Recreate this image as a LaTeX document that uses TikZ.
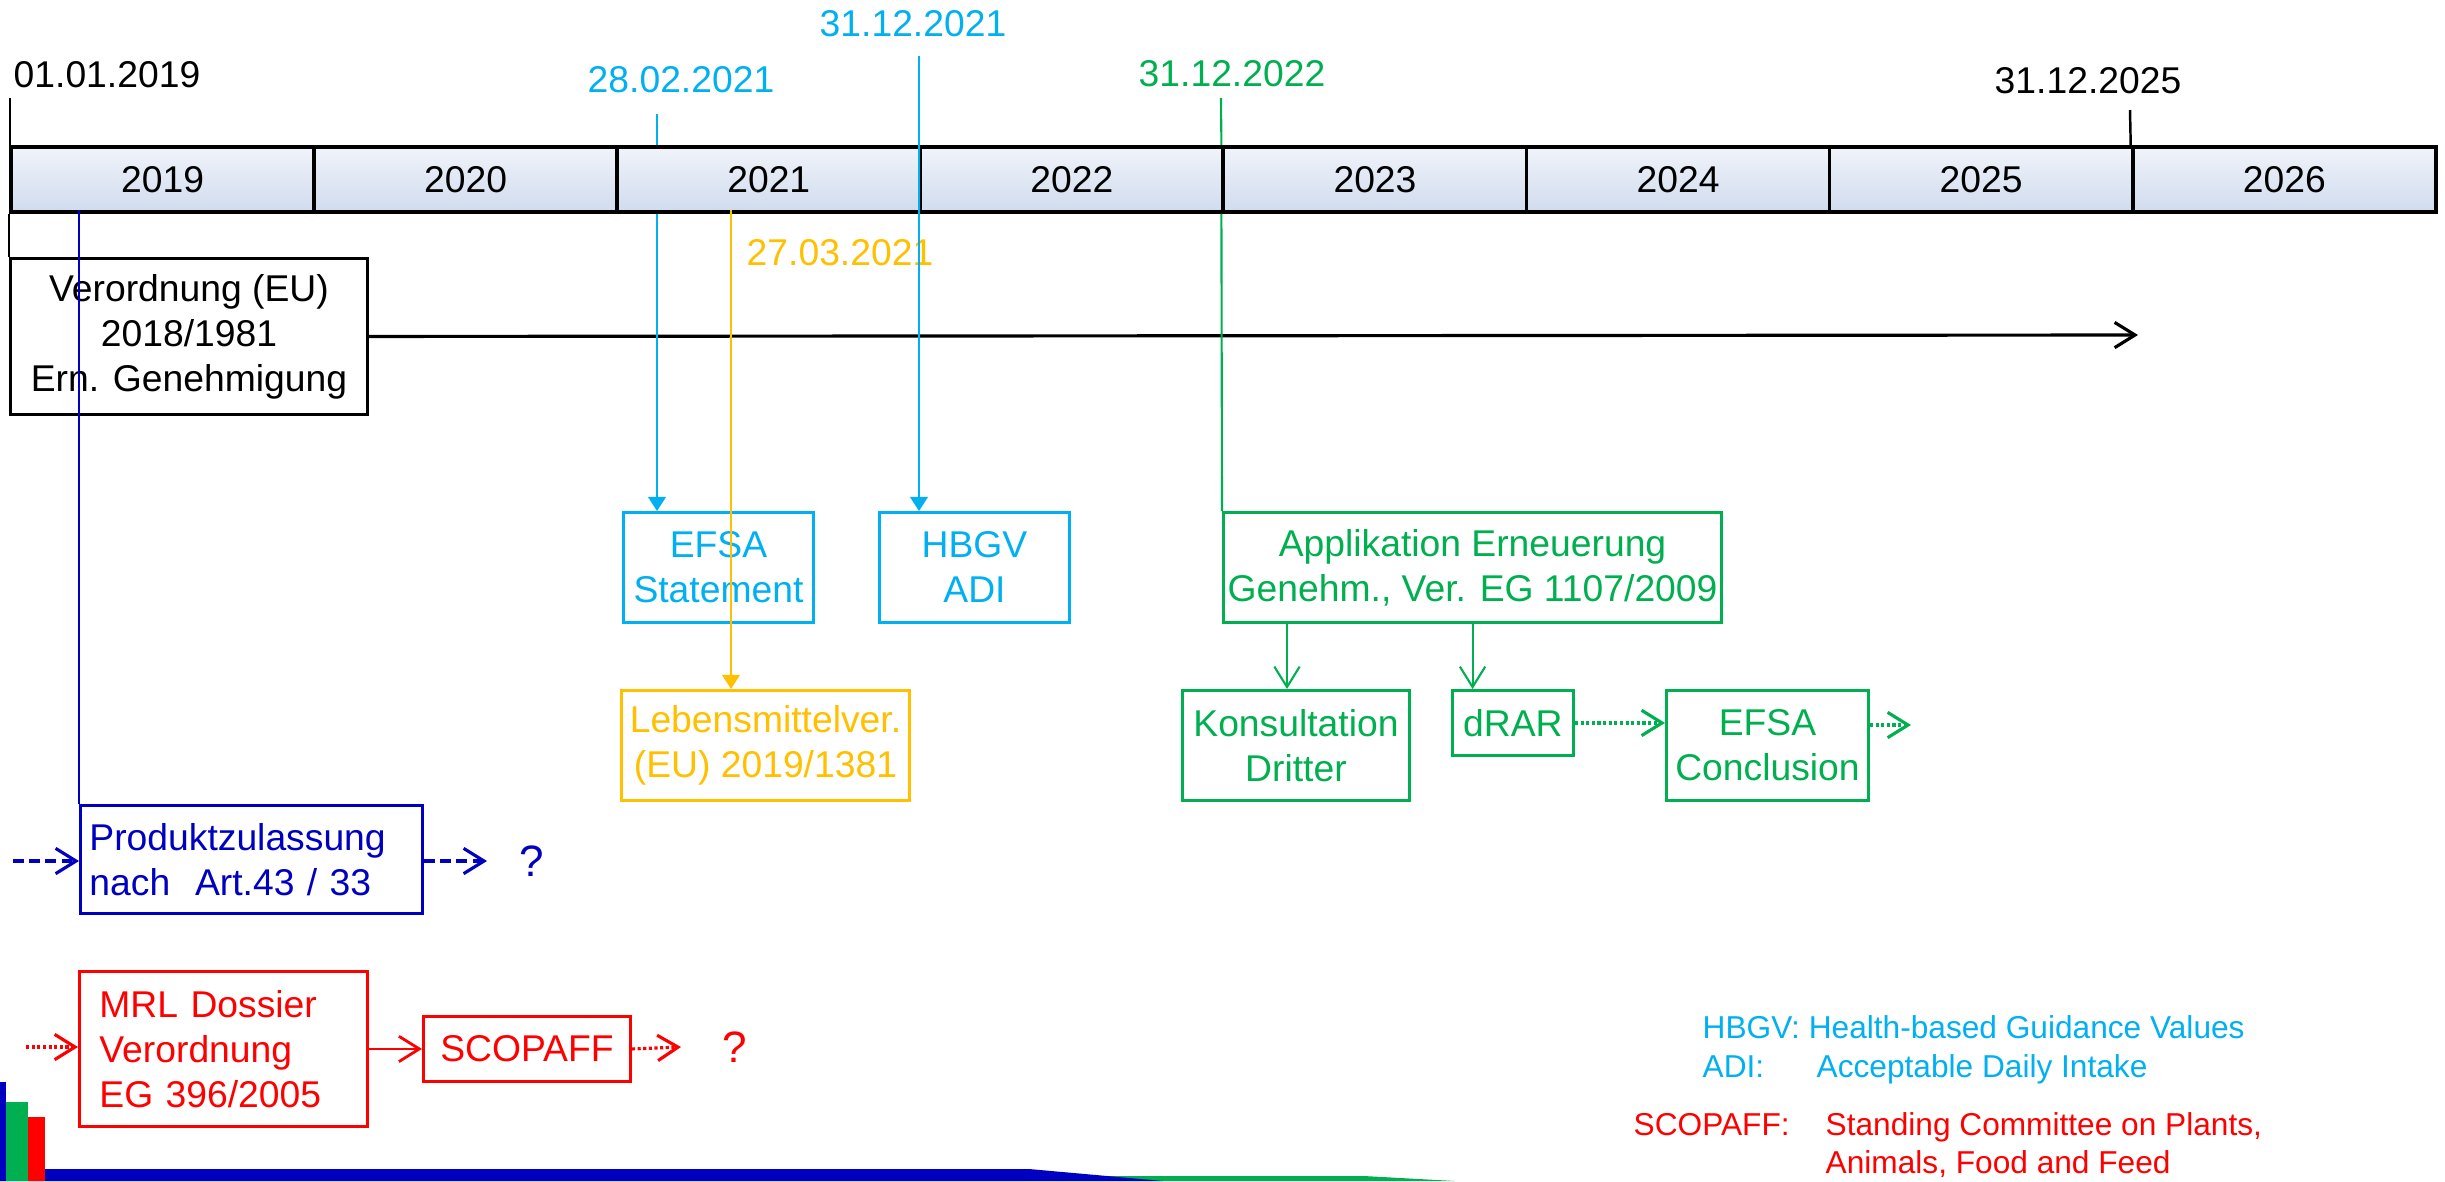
\documentclass[tikz,border=0pt]{standalone}
\usepackage{fontspec}
\setmainfont{Liberation Sans}
\usetikzlibrary{arrows.meta}
\definecolor{cy}{HTML}{00B0F0}
\definecolor{org}{HTML}{FFC000}
\definecolor{grn}{HTML}{00B050}
\definecolor{rdc}{HTML}{FF0000}
\definecolor{dblue}{HTML}{0000C0}
\definecolor{bartop}{HTML}{F0F3FA}
\definecolor{barbot}{HTML}{D0DCEE}
\newcommand\mainfs{\fontsize{10.6}{12.8}\selectfont}
\newcommand\legfs{\fontsize{9}{11}\selectfont}
\newcommand\qfs{\fontsize{12.5}{14}\selectfont}
\tikzset{
  yearcell/.style={draw=black, line width=1.1pt, top color=bartop, bottom color=barbot,
    minimum width=3.031cm, minimum height=0.65cm, anchor=north west, inner sep=0pt, font=\mainfs},
  box/.style={draw, line width=0.8pt, inner sep=0pt, align=center, anchor=north west, font=\mainfs},
  datelbl/.style={inner sep=0pt, font=\mainfs},
  chevron/.style={-{Straight Barb[length=5.8pt,width=7.2pt]}},
  triarrow/.style={-{Triangle[length=4pt,width=5pt]}},
  thinline/.style={line width=0.6pt},
  dotline/.style={line width=0.9pt, dash pattern=on 0.9pt off 0.7pt},
  dashline/.style={line width=0.9pt, dash pattern=on 3pt off 1.6pt},
}
\begin{document}
\begin{tikzpicture}[x=0.01cm,y=-0.01cm]
\useasboundingbox (0,0) rectangle (2445,1181);
\fill[white] (0,0) rectangle (2445,1181);

% bottom decoration
\fill[grn] (0,1176) -- (1364,1176) -- (1455,1181) -- (0,1181) -- cycle;
\fill[dblue] (0,1169) -- (1029,1169) -- (1163,1181) -- (0,1181) -- cycle;
\fill[dblue] (0,1082) rectangle (6,1181);
\fill[grn] (6,1102) rectangle (28,1181);
\fill[rdc] (28,1117) rectangle (45,1181);

% timeline
\foreach \yr [count=\i from 0] in {2019,2020,2021,2022,2023,2024,2025,2026}
  \node[yearcell] (y\yr) at ({9+303.1*\i},145) {\yr};

% date labels
\node[datelbl, anchor=west] (d2019) at (13,75) {01.01.2019};
\node[datelbl, text=cy] (d0221) at (681,80) {28.02.2021};
\node[datelbl, text=cy] (d1221) at (913,24) {31.12.2021};
\node[datelbl, text=grn] (d1222) at (1232,74) {31.12.2022};
\node[datelbl] (d1225) at (2088,81) {31.12.2025};
\node[datelbl, text=org] (d0321) at (840,253) {27.03.2021};

% boxes
\node[box, minimum width=3.57cm, minimum height=1.56cm] (verord) at (9,257)
  {Verordnung (EU)\\2018/1981\\Ern. Genehmigung};
\node[box, draw=cy, text=cy, minimum width=1.90cm, minimum height=1.10cm] (efsa) at (622,511)
  {EFSA\\Statement};
\node[box, draw=cy, text=cy, minimum width=1.90cm, minimum height=1.10cm] (hbgv) at (878,511)
  {HBGV\\ADI};
\node[box, draw=grn, text=grn, minimum width=4.98cm, minimum height=1.10cm] (appl) at (1222,511)
  {Applikation Erneuerung\\Genehm., Ver. EG 1107/2009};
\node[box, draw=org, text=org, minimum width=2.88cm, minimum height=1.10cm] (leb) at (620,689)
  {Lebensmittelver.\\(EU) 2019/1381};
\node[box, draw=grn, text=grn, minimum width=2.27cm, minimum height=1.10cm] (kons) at (1181,689)
  {Konsultation\\Dritter};
\node[box, draw=grn, text=grn, minimum width=1.21cm, minimum height=0.65cm] (drar) at (1451,689)
  {dRAR};
\node[box, draw=grn, text=grn, minimum width=2.02cm, minimum height=1.10cm] (concl) at (1665,689)
  {EFSA\\Conclusion};
\node[box, draw=dblue, text=dblue, minimum width=3.42cm, minimum height=1.08cm,
  align=left, text width=3.24cm, inner xsep=0.09cm] (prod) at (79,804)
  {Produktzulassung\\nach\ \ Art.43 / 33};
\node[box, draw=rdc, text=rdc, minimum width=2.88cm, minimum height=1.55cm,
  align=left, text width=2.48cm, inner xsep=0.2cm] (mrl) at (78,970)
  {MRL Dossier\\Verordnung\\EG 396/2005};
\node[box, draw=rdc, text=rdc, minimum width=2.07cm, minimum height=0.65cm] (scop) at (422,1015)
  {SCOPAFF};

\node[inner sep=0pt, font=\qfs, text=dblue] (bq) at (532,861) {?};
\node[inner sep=0pt, font=\qfs, text=rdc] (rq) at (735,1047) {?};

% coordinates
\coordinate (k2019) at (10,98);
\coordinate (k2025) at (2130,110);
\coordinate (c1) at (657,114);
\coordinate (c2) at (919,56);
\coordinate (g1) at (1221,98);
\coordinate (o1) at (731,210);
\coordinate (b1) at (79,210);
\coordinate (vend) at (2138,335);
\coordinate (cend) at (1911,725);
\coordinate (bin) at (13,861);
\coordinate (bout) at (487,861);
\coordinate (rin) at (26,1047);
\coordinate (rout) at (681,1047);

% black
\draw[line width=0.7pt] (k2019) -- (k2019 |- y2019.north);
\draw[line width=0.7pt] (y2019.south west) -- (verord.north west);
\draw[line width=0.7pt] (k2025) -- (y2026.north west);
\draw[line width=0.9pt, chevron] (verord.east) -- (vend);

% cyan
\draw[thinline, draw=cy] (c1) -- (c1 |- y2021.north);
\draw[thinline, draw=cy, fill=cy, triarrow] (c1 |- y2021.south) -- (c1 |- efsa.north);
\draw[thinline, draw=cy, fill=cy, triarrow] (c2) -- (c2 |- hbgv.north);

% orange
\draw[thinline, draw=org, fill=org, triarrow] (o1) -- (o1 |- leb.north);

% green
\draw[thinline, draw=grn] (g1) -- (y2023.north west);
\draw[thinline, draw=grn] (y2023.south west) -- (appl.north west);
\draw[thinline, draw=grn, chevron] (appl.south -| 1287,0) -- (kons.north -| 1287,0);
\draw[thinline, draw=grn, chevron] (appl.south) -- (appl.south |- drar.north);
\draw[dotline, draw=grn, chevron] (drar.east) -- (drar.east -| concl.west);
\draw[dotline, draw=grn, chevron] (concl.east |- cend) -- (cend);

% blue
\draw[thinline, draw=dblue] (b1) -- (prod.north west);
\draw[dashline, draw=dblue, chevron] (bin) -- (bin -| prod.west);
\draw[dashline, draw=dblue, chevron] (prod.east |- bout) -- (bout);

% red
\draw[dotline, draw=rdc, chevron] (rin) -- (rin -| mrl.west);
\draw[line width=0.8pt, draw=rdc, chevron] (mrl.east |- scop.west) -- (scop.west);
\draw[dotline, draw=rdc, chevron] (scop.east) -- (rout);

% legend
\node[inner sep=0pt, anchor=base west, text=cy, font=\legfs] (lh1) at (1702,1038) {HBGV: Health-based Guidance Values};
\node[inner sep=0pt, anchor=base west, text=cy, font=\legfs] (la1) at (1702,1077) {ADI:};
\node[inner sep=0pt, anchor=base west, text=cy, font=\legfs] (la2) at (1816,1077) {Acceptable Daily Intake};
\node[inner sep=0pt, anchor=base west, text=rdc, font=\legfs] (ls1) at (1633,1135) {SCOPAFF:};
\node[inner sep=0pt, anchor=base west, text=rdc, font=\legfs] (ls2) at (1825,1135) {Standing Committee on Plants,};
\node[inner sep=0pt, anchor=base west, text=rdc, font=\legfs] (ls3) at (1825,1173) {Animals, Food and Feed};
\end{tikzpicture}
\end{document}
